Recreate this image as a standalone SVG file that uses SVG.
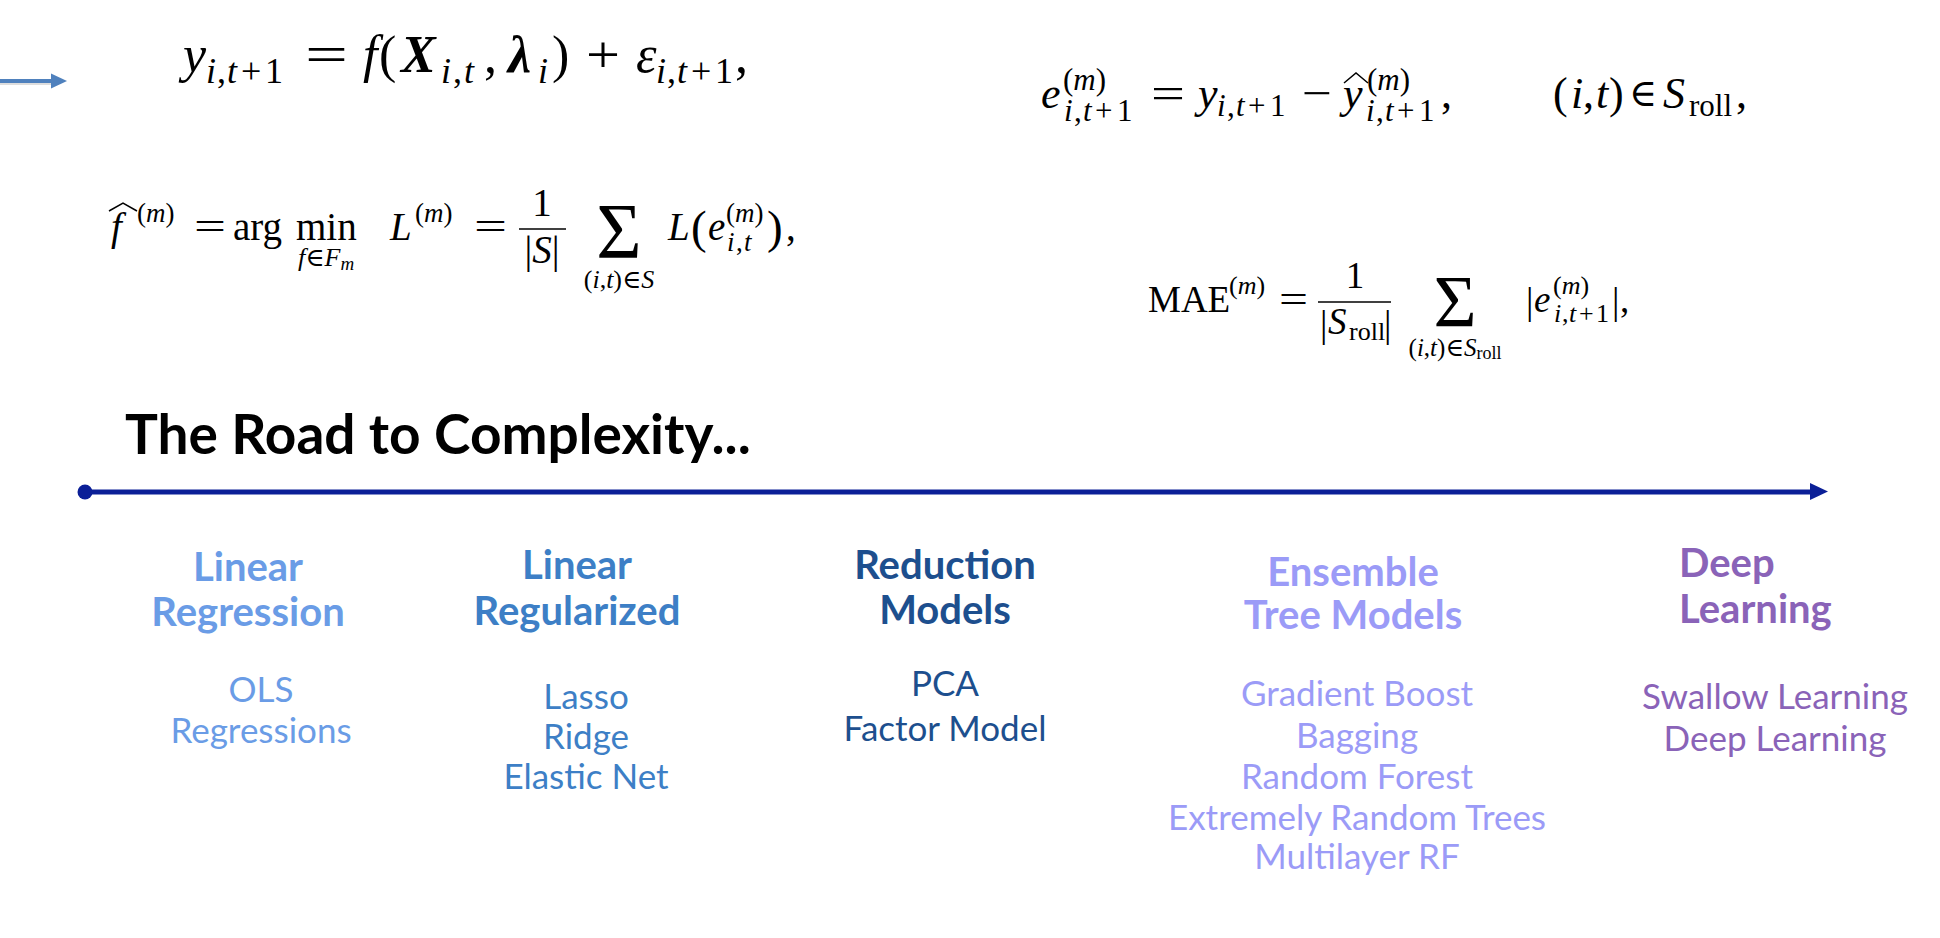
<svg xmlns="http://www.w3.org/2000/svg" width="1940" height="938" viewBox="0 0 1940 938">
<style>
.m{font-family:"Liberation Serif","DejaVu Serif",serif;fill:#000}
.i{font-style:italic}
.hat{fill:none;stroke:#000;stroke-width:1.5}
.bar{stroke:#000;stroke-width:1.7}
.title{font-family:Lato,"Open Sans",sans-serif;font-weight:700;font-size:55px;fill:#000}
.h{font-family:Lato,"Open Sans",sans-serif;font-weight:700;font-size:40px;text-anchor:middle}
.hs{font-family:Lato,"Open Sans",sans-serif;font-weight:700;font-size:40px;text-anchor:start}
.it{font-family:Lato,"Open Sans",sans-serif;font-weight:400;font-size:35px;text-anchor:middle}
.c1{fill:#6a9ce6}.c2{fill:#3d7fc6}.c3{fill:#1d4f8e}.c4{fill:#9b9bf7}.c5{fill:#8a63b8}
</style>
<rect width="1940" height="938" fill="#fff"/>

<g id="connectors">
<g id="left-arrow">
<line x1="0" y1="83" x2="54" y2="83" stroke="#c8c8c8" stroke-width="4" opacity="0.6"/>
<line x1="0" y1="81" x2="52" y2="81" stroke="#4f81bd" stroke-width="4"/>
<polygon points="51,73.5 67,81 51,88.5" fill="#4f81bd"/>
</g>
<g id="timeline">
<line x1="85" y1="492" x2="1814" y2="492" stroke="#0b1f97" stroke-width="5"/>
<polygon points="1810,483 1828,491.5 1810,500" fill="#0b1f97"/>
<circle cx="85" cy="492" r="7.5" fill="#0b1f97"/>
</g>
</g>

<g id="eq1" class="m" font-size="52">
<text x="183" y="72" class="i">y</text>
<text y="83" font-size="36"><tspan x="206" class="i">i</tspan><tspan x="217">,</tspan><tspan x="227" class="i">t</tspan><tspan x="241">+</tspan><tspan x="265">1</tspan></text>
<text x="305" y="72" textLength="43" lengthAdjust="spacingAndGlyphs">=</text>
<text x="363" y="72" class="i">f</text>
<text x="379" y="72">(</text>
<text x="401" y="72" class="i" font-weight="bold">X</text>
<text y="83" font-size="36"><tspan x="441" class="i">i</tspan><tspan x="453">,</tspan><tspan x="464" class="i">t</tspan></text>
<text x="484" y="72">,</text>
<text x="508" y="72" class="i" font-weight="bold">λ</text>
<text x="538" y="83" font-size="36" class="i">i</text>
<text x="552" y="72">)</text>
<text x="586" y="72" textLength="34" lengthAdjust="spacingAndGlyphs">+</text>
<text x="636" y="72" class="i">ε</text>
<text y="83" font-size="36"><tspan x="656" class="i">i</tspan><tspan x="667">,</tspan><tspan x="677" class="i">t</tspan><tspan x="691">+</tspan><tspan x="715">1</tspan></text>
<text x="735" y="72">,</text>
</g>

<g id="eq2" class="m" font-size="44">
<text x="1041" y="108" class="i">e</text>
<text x="1063" y="90" font-size="31">(<tspan class="i">m</tspan>)</text>
<text y="121" font-size="31"><tspan x="1064" class="i">i</tspan><tspan x="1074">,</tspan><tspan x="1083" class="i">t</tspan><tspan x="1095">+</tspan><tspan x="1117">1</tspan></text>
<text x="1151" y="108" textLength="34" lengthAdjust="spacingAndGlyphs">=</text>
<text x="1198" y="108" class="i">y</text>
<text y="116" font-size="31"><tspan x="1217" class="i">i</tspan><tspan x="1227">,</tspan><tspan x="1236" class="i">t</tspan><tspan x="1248">+</tspan><tspan x="1270">1</tspan></text>
<text x="1302" y="108" textLength="30" lengthAdjust="spacingAndGlyphs">−</text>
<text x="1343" y="108" class="i">y</text>
<path class="hat" d="M1344,83 L1356,73 L1368,83"/>
<text x="1367" y="90" font-size="31">(<tspan class="i">m</tspan>)</text>
<text y="121" font-size="31"><tspan x="1366" class="i">i</tspan><tspan x="1376">,</tspan><tspan x="1385" class="i">t</tspan><tspan x="1397">+</tspan><tspan x="1419">1</tspan></text>
<text x="1441" y="108">,</text>
<text y="108"><tspan x="1553">(</tspan><tspan x="1571" class="i">i</tspan><tspan x="1583">,</tspan><tspan x="1596" class="i">t</tspan><tspan x="1609">)</tspan></text>
<text x="1629" y="106" font-size="38">∈</text>
<text x="1663" y="108" class="i">S</text>
<text x="1689" y="116" font-size="31">roll</text>
<text x="1736" y="108">,</text>
</g>

<g id="eq3" class="m" font-size="39">
<text x="111" y="240" class="i">f</text>
<path class="hat" d="M109,211 L123,203 L137,211"/>
<text x="137" y="222" font-size="27">(<tspan class="i">m</tspan>)</text>
<text x="194" y="240" textLength="32" lengthAdjust="spacingAndGlyphs">=</text>
<text x="233" y="240">arg</text>
<text x="296" y="240">min</text>
<text x="298" y="266" font-size="26"><tspan class="i">f</tspan>∈<tspan class="i">F</tspan><tspan class="i" font-size="19" dy="4">m</tspan></text>
<text x="390" y="240" class="i">L</text>
<text x="415" y="222" font-size="27">(<tspan class="i">m</tspan>)</text>
<text x="474" y="240" textLength="33" lengthAdjust="spacingAndGlyphs">=</text>
<text x="542" y="216" text-anchor="middle">1</text>
<line class="bar" x1="519" y1="229" x2="566" y2="229"/>
<text x="542" y="263" text-anchor="middle">|<tspan class="i">S</tspan>|</text>
<text x="619" y="257" font-size="78" text-anchor="middle">Σ</text>
<text x="619" y="288" font-size="26" text-anchor="middle">(<tspan class="i">i</tspan>,<tspan class="i">t</tspan>)∈<tspan class="i">S</tspan></text>
<text x="668" y="240" class="i">L</text>
<text x="691" y="243" font-size="47">(</text>
<text x="708" y="240" class="i">e</text>
<text x="726" y="222" font-size="27">(<tspan class="i">m</tspan>)</text>
<text y="251" font-size="27"><tspan x="727" class="i">i</tspan><tspan x="736">,</tspan><tspan x="744" class="i">t</tspan></text>
<text x="767" y="243" font-size="47">)</text>
<text x="786" y="240">,</text>
</g>

<g id="eq4" class="m" font-size="37">
<text x="1148" y="312">MAE</text>
<text x="1229" y="294" font-size="26">(<tspan class="i">m</tspan>)</text>
<text x="1279" y="312" textLength="29" lengthAdjust="spacingAndGlyphs">=</text>
<text x="1355" y="288" text-anchor="middle">1</text>
<line class="bar" x1="1318" y1="302" x2="1391" y2="302"/>
<text x="1320" y="337">|</text>
<text x="1328" y="334" class="i">S</text>
<text x="1349" y="340" font-size="26">roll</text>
<text x="1384" y="337">|</text>
<text x="1455" y="327" font-size="74" text-anchor="middle">Σ</text>
<text x="1455" y="356" font-size="25" text-anchor="middle">(<tspan class="i">i</tspan>,<tspan class="i">t</tspan>)∈<tspan class="i">S</tspan><tspan font-size="18" dy="3">roll</tspan></text>
<text x="1526" y="314">|</text>
<text x="1534" y="312" class="i">e</text>
<text x="1553" y="294" font-size="26">(<tspan class="i">m</tspan>)</text>
<text y="322" font-size="26"><tspan x="1554" class="i">i</tspan><tspan x="1562">,</tspan><tspan x="1569" class="i">t</tspan><tspan x="1579">+</tspan><tspan x="1596">1</tspan></text>
<text x="1612" y="314">|</text>
<text x="1620" y="312">,</text>
</g>

<g id="title">
<text class="title" x="125" y="454">The Road to Complexity...</text>
</g>

<g id="col-linear-regression">
<text class="h c1" x="248" y="581">Linear</text>
<text class="h c1" x="248" y="626">Regression</text>
<text class="it c1" x="261" y="702">OLS</text>
<text class="it c1" x="261" y="743">Regressions</text>
</g>

<g id="col-linear-regularized">
<text class="h c2" x="577" y="579">Linear</text>
<text class="h c2" x="577" y="625">Regularized</text>
<text class="it c2" x="586" y="709">Lasso</text>
<text class="it c2" x="586" y="749">Ridge</text>
<text class="it c2" x="586" y="789">Elastic Net</text>
</g>

<g id="col-reduction-models">
<text class="h c3" x="945" y="579">Reduction</text>
<text class="h c3" x="945" y="624">Models</text>
<text class="it c3" x="945" y="696">PCA</text>
<text class="it c3" x="945" y="741">Factor Model</text>
</g>

<g id="col-ensemble-tree">
<text class="h c4" x="1353" y="586">Ensemble</text>
<text class="h c4" x="1353" y="629">Tree Models</text>
<text class="it c4" x="1357" y="706">Gradient Boost</text>
<text class="it c4" x="1357" y="748">Bagging</text>
<text class="it c4" x="1357" y="789">Random Forest</text>
<text class="it c4" x="1357" y="830">Extremely Random Trees</text>
<text class="it c4" x="1357" y="869">Multilayer RF</text>
</g>

<g id="col-deep-learning">
<text class="hs c5" x="1679" y="577">Deep</text>
<text class="hs c5" x="1679" y="623">Learning</text>
<text class="it c5" x="1775" y="709">Swallow Learning</text>
<text class="it c5" x="1775" y="751">Deep Learning</text>
</g>
</svg>
